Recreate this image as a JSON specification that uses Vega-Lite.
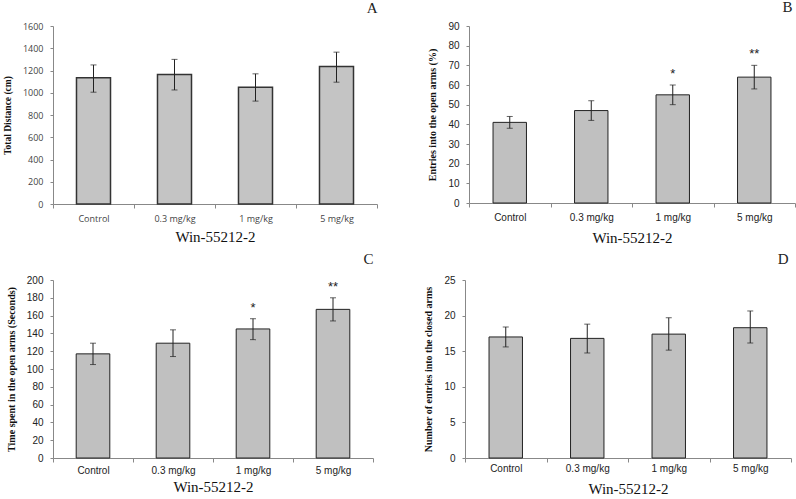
{
  "$schema": "https://vega.github.io/schema/vega-lite/v6.json",
  "padding": {"left": 2, "top": 0, "right": 0, "bottom": 0},
  "background": "white",
  "datasets": {
    "rows": [
      {"panel": "A", "dose": "Control", "mean": 1135, "lo": 1005, "hi": 1250, "sig": ""},
      {"panel": "A", "dose": "0.3 mg/kg", "mean": 1165, "lo": 1025, "hi": 1300, "sig": ""},
      {"panel": "A", "dose": "1 mg/kg", "mean": 1050, "lo": 925, "hi": 1170, "sig": ""},
      {"panel": "A", "dose": "5 mg/kg", "mean": 1235, "lo": 1095, "hi": 1365, "sig": ""},
      {"panel": "B", "dose": "Control", "mean": 41, "lo": 38, "hi": 44, "sig": ""},
      {"panel": "B", "dose": "0.3 mg/kg", "mean": 47, "lo": 42, "hi": 52, "sig": ""},
      {"panel": "B", "dose": "1 mg/kg", "mean": 55, "lo": 50, "hi": 60, "sig": "*"},
      {"panel": "B", "dose": "5 mg/kg", "mean": 64, "lo": 58, "hi": 70, "sig": "**"},
      {"panel": "C", "dose": "Control", "mean": 117, "lo": 105, "hi": 129, "sig": ""},
      {"panel": "C", "dose": "0.3 mg/kg", "mean": 129, "lo": 114, "hi": 144, "sig": ""},
      {"panel": "C", "dose": "1 mg/kg", "mean": 145, "lo": 133, "hi": 156.5, "sig": "*"},
      {"panel": "C", "dose": "5  mg/kg", "mean": 167, "lo": 154, "hi": 180, "sig": "**"},
      {"panel": "D", "dose": "Control", "mean": 17, "lo": 15.6, "hi": 18.4, "sig": ""},
      {"panel": "D", "dose": "0.3 mg/kg", "mean": 16.8, "lo": 14.75, "hi": 18.8, "sig": ""},
      {"panel": "D", "dose": "1 mg/kg", "mean": 17.4, "lo": 15.15, "hi": 19.7, "sig": ""},
      {"panel": "D", "dose": "5 mg/kg", "mean": 18.3, "lo": 16.15, "hi": 20.65, "sig": ""}
    ]
  },
  "data": {"name": "rows"},
  "spacing": 7,
  "vconcat": [
    {
      "spacing": 49,
      "hconcat": [
        {
          "width": 324, "height": 178,
          "title": {"text": "A", "anchor": "end", "offset": 6},
          "transform": [{"filter": "datum.panel === 'A'"}],
          "encoding": {
            "x": {"field": "dose", "type": "nominal", "sort": null, "title": "Win-55212-2",
                  "scale": {"paddingInner": 0, "paddingOuter": 0},
                  "axis": {"labelFont": "Open Sans", "labelFontSize": 9, "labelColor": "#444", "labelPadding": 6, "titlePadding": 6}}
          },
          "layer": [
            {"mark": {"type": "bar", "width": {"band": 0.42}, "fill": "#c4c4c4", "stroke": "#333", "strokeWidth": 1.5},
             "encoding": {"y": {"field": "mean", "type": "quantitative", "title": "Total Distance (cm)",
               "scale": {"domain": [0, 1600]},
               "axis": {"values": [0,200,400,600,800,1000,1200,1400,1600], "format": "d", "labelFont": "Open Sans", "labelFontSize": 9, "labelColor": "#444", "titleFontSize": 9.5}}}},
            {"mark": {"type": "errorbar", "ticks": {"size": 6, "color": "#222"}, "rule": {"color": "#222"}},
             "encoding": {"y": {"field": "lo", "type": "quantitative", "title": "Total Distance (cm)",
               "scale": {"domain": [0, 1600]},
               "axis": {"values": [0,200,400,600,800,1000,1200,1400,1600], "format": "d", "labelFont": "Open Sans", "labelFontSize": 9, "labelColor": "#444", "titleFontSize": 9.5}}, "y2": {"field": "hi"}}}
          ]
        },
        {
          "width": 326, "height": 177,
          "title": {"text": "B", "anchor": "end", "offset": 6, "dx": -3},
          "transform": [{"filter": "datum.panel === 'B'"}],
          "encoding": {
            "x": {"field": "dose", "type": "nominal", "sort": null, "title": "Win-55212-2",
                  "scale": {"paddingInner": 0, "paddingOuter": 0},
                  "axis": {"labelPadding": 5, "titlePadding": 8}}
          },
          "layer": [
            {"mark": {"type": "bar", "width": {"band": 0.41}, "fill": "#c0c0c0", "stroke": "#222", "strokeWidth": 1},
             "encoding": {"y": {"field": "mean", "type": "quantitative", "title": "Entries into the open arms (%)",
               "scale": {"domain": [0, 90]},
               "axis": {"values": [0,10,20,30,40,50,60,70,80,90], "format": "d"}}}},
            {"mark": {"type": "errorbar", "ticks": {"size": 6, "color": "#222"}, "rule": {"color": "#222"}},
             "encoding": {"y": {"field": "lo", "type": "quantitative", "title": "Entries into the open arms (%)",
               "scale": {"domain": [0, 90]},
               "axis": {"values": [0,10,20,30,40,50,60,70,80,90], "format": "d"}}, "y2": {"field": "hi"}}},
            {"mark": {"type": "text", "baseline": "bottom", "dy": -4, "fontSize": 13, "font": "Liberation Sans", "color": "#222"},
             "encoding": {"y": {"field": "hi", "type": "quantitative", "title": "Entries into the open arms (%)",
               "scale": {"domain": [0, 90]},
               "axis": {"values": [0,10,20,30,40,50,60,70,80,90], "format": "d"}}, "text": {"field": "sig"}}}
          ]
        }
      ]
    },
    {
      "spacing": 49,
      "hconcat": [
        {
          "width": 320, "height": 178,
          "title": {"text": "C", "anchor": "end", "offset": 8},
          "transform": [{"filter": "datum.panel === 'C'"}],
          "encoding": {
            "x": {"field": "dose", "type": "nominal", "sort": null, "title": "Win-55212-2",
                  "scale": {"paddingInner": 0, "paddingOuter": 0},
                  "axis": {"labelPadding": 3, "titlePadding": 4}}
          },
          "layer": [
            {"mark": {"type": "bar", "width": {"band": 0.42}, "fill": "#c0c0c0", "stroke": "#222", "strokeWidth": 1},
             "encoding": {"y": {"field": "mean", "type": "quantitative", "title": "Time spent in the open arms (Seconds)",
               "scale": {"domain": [0, 200]},
               "axis": {"values": [0,20,40,60,80,100,120,140,160,180,200], "format": "d"}}}},
            {"mark": {"type": "errorbar", "ticks": {"size": 6, "color": "#222"}, "rule": {"color": "#222"}},
             "encoding": {"y": {"field": "lo", "type": "quantitative", "title": "Time spent in the open arms (Seconds)",
               "scale": {"domain": [0, 200]},
               "axis": {"values": [0,20,40,60,80,100,120,140,160,180,200], "format": "d"}}, "y2": {"field": "hi"}}},
            {"mark": {"type": "text", "baseline": "bottom", "dy": -4, "fontSize": 13, "font": "Liberation Sans", "color": "#222"},
             "encoding": {"y": {"field": "hi", "type": "quantitative", "title": "Time spent in the open arms (Seconds)",
               "scale": {"domain": [0, 200]},
               "axis": {"values": [0,20,40,60,80,100,120,140,160,180,200], "format": "d"}}, "text": {"field": "sig"}}}
          ]
        },
        {
          "width": 326, "height": 178,
          "title": {"text": "D", "anchor": "end", "offset": 8, "dx": -3},
          "transform": [{"filter": "datum.panel === 'D'"}],
          "encoding": {
            "x": {"field": "dose", "type": "nominal", "sort": null, "title": "Win-55212-2",
                  "scale": {"paddingInner": 0, "paddingOuter": 0},
                  "axis": {"labelPadding": 1, "titlePadding": 8}}
          },
          "layer": [
            {"mark": {"type": "bar", "width": {"band": 0.41}, "fill": "#c0c0c0", "stroke": "#222", "strokeWidth": 1},
             "encoding": {"y": {"field": "mean", "type": "quantitative", "title": "Number of entries into the closed arms",
               "scale": {"domain": [0, 25]},
               "axis": {"values": [0,5,10,15,20,25], "format": "d"}}}},
            {"mark": {"type": "errorbar", "ticks": {"size": 6, "color": "#222"}, "rule": {"color": "#222"}},
             "encoding": {"y": {"field": "lo", "type": "quantitative", "title": "Number of entries into the closed arms",
               "scale": {"domain": [0, 25]},
               "axis": {"values": [0,5,10,15,20,25], "format": "d"}}, "y2": {"field": "hi"}}}
          ]
        }
      ]
    }
  ],
  "config": {
    "view": {"stroke": null},
    "title": {"font": "Liberation Serif", "fontSize": 15, "fontWeight": "normal", "color": "#222"},
    "axis": {
      "grid": false,
      "domainColor": "#888",
      "tickColor": "#888",
      "tickSize": 3,
      "labelFont": "Liberation Sans",
      "labelFontSize": 10,
      "labelColor": "#222",
      "titleFont": "Liberation Serif",
      "titleColor": "#111"
    },
    "axisX": {
      "labelAngle": 0,
      "tickBand": "extent",
      "tickSize": 4,
      "titleFontSize": 15,
      "titleFontWeight": "normal"
    },
    "axisY": {
      "titleFontSize": 10,
      "titleFontWeight": "bold",
      "titlePadding": 10,
      "labelPadding": 7
    }
  }
}
